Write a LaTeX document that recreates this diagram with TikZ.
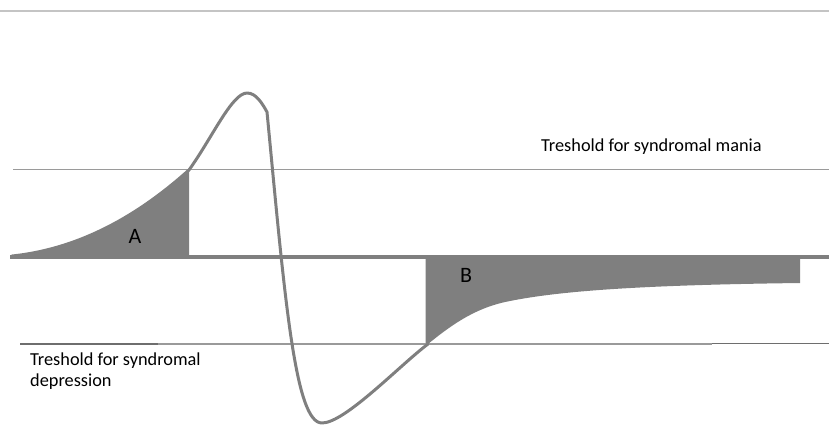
\documentclass[tikz,border=0pt]{standalone}
\usepackage{fontspec}
\setmainfont{Carlito}
\begin{document}
\begin{tikzpicture}[x=1pt,y=-1pt,
  curvecol/.style={draw=curvegray,line width=3pt,line join=round,line cap=round},
  thresh/.style={draw=threshgray,line width=1.3pt},
  label/.style={font=\fontsize{18.3}{21}\selectfont,text=black,inner sep=0pt},
  region/.style={font=\fontsize{22}{24}\selectfont,text=black,inner sep=0pt}]
\definecolor{curvegray}{HTML}{7F7F7F}
\definecolor{threshgray}{HTML}{9A9A9A}
\definecolor{darkthresh}{HTML}{6E6E6E}
\definecolor{topgray}{HTML}{C4C4C4}
\useasboundingbox (0,0) rectangle (829,424);
% top rule
\draw[topgray,line width=2pt] (0,10.5) -- (829,10.5);
% named points
\coordinate (s) at (12,256);
\coordinate (mA) at (189,170);
\coordinate (pk) at (247,93);
\coordinate (kn) at (267,112);
\coordinate (bt) at (322,423);
\coordinate (mB) at (428,344);
\coordinate (eB) at (800,283);
% fills
\fill[curvegray] (s) .. controls (90,248) and (150,205) .. (mA) -- (189,257) -- (12,257) -- cycle;
\fill[curvegray] (425.5,257) -- (425.5,345) -- (mB)
  .. controls (455,322) and (478,307) .. (510,301)
  .. controls (560,291) and (640,285) .. (eB) -- (800,257) -- cycle;
% thresholds
\draw[thresh] (13,169.5) -- (829,169.5);
\draw[thresh] (158,344) -- (712,344);
\draw[darkthresh,line width=1.3pt] (20,344) -- (158,344);
\draw[darkthresh,line width=1.3pt] (712,343.5) -- (829,343.5);
% baseline
\draw[curvegray,line width=3.5pt] (10,257) -- (829,257);
% curve
\draw[curvecol] (s) .. controls (90,248) and (150,205) .. (mA)
  .. controls (212,138) and (232,93) .. (pk)
  .. controls (256,93) and (262,103) .. (kn)
  .. controls (285,300) and (295,423) .. (bt)
  .. controls (345,423) and (400,365) .. (mB);
% texts
\node[label,anchor=base west] (tm) at (541,151) {Treshold for syndromal mania};
\node[label,anchor=base west,align=left] (td) at (30,386) {Treshold for syndromal\\depression};
\node[region] (la) at (135,236) {A};
\node[region] (lb) at (466,275) {B};
\end{tikzpicture}
\end{document}
